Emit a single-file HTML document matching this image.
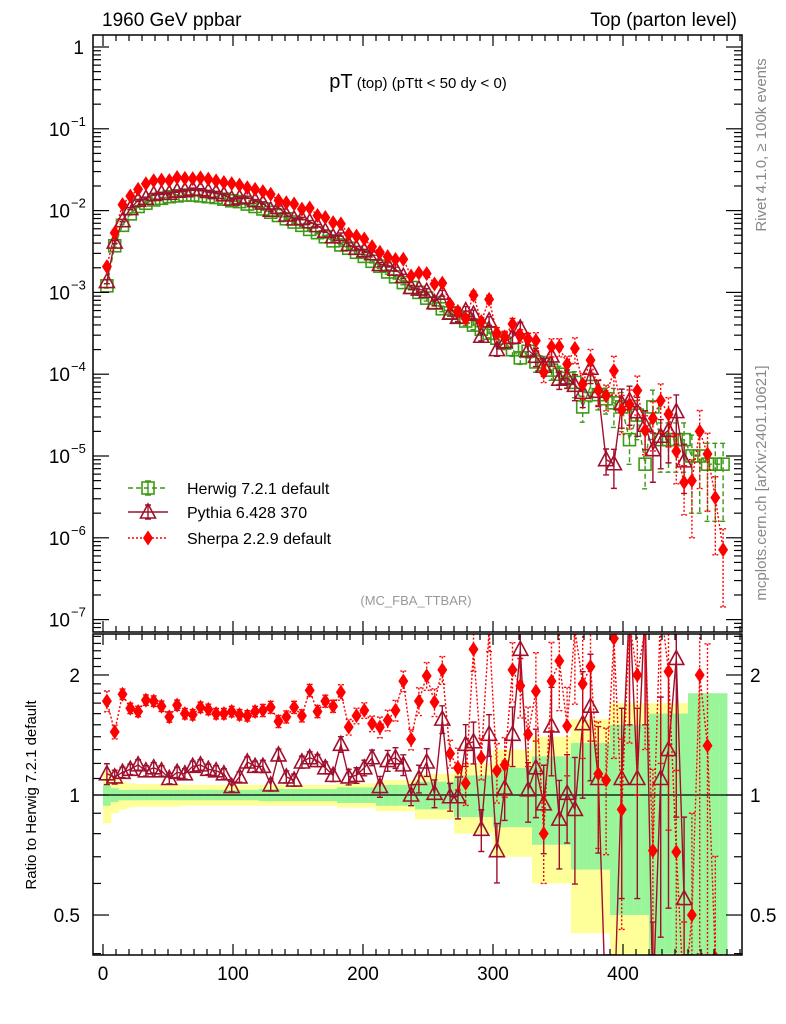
<!DOCTYPE html>
<html><head><meta charset="utf-8"><style>
html,body{margin:0;padding:0;background:#fff;width:786px;height:1024px;overflow:hidden}
svg{display:block}
text{font-family:"Liberation Sans",sans-serif}
</style></head><body>
<svg id="c" width="786" height="1024" viewBox="0 0 786 1024" xmlns="http://www.w3.org/2000/svg">
<defs>
<clipPath id="cm"><rect x="93" y="35" width="649" height="597"/></clipPath>
<clipPath id="cr"><rect x="93" y="634" width="649" height="321"/></clipPath>
</defs>
<g id="bands" clip-path="url(#cr)"></g>
<line x1="93" y1="795" x2="742" y2="795" stroke="#000" stroke-width="1.2"/>
<g id="gm" clip-path="url(#cm)"></g>
<g id="gr" clip-path="url(#cr)"></g>
<g id="axes"></g>
<rect x="93" y="35" width="649" height="597" fill="none" stroke="#000" stroke-width="1.5"/>
<rect x="93" y="634" width="649" height="321" fill="none" stroke="#000" stroke-width="1.5"/>
<text x="102" y="26" font-size="19">1960 GeV ppbar</text>
<text x="737" y="26" font-size="19" text-anchor="end">Top (parton level)</text>
<text x="418" y="88" text-anchor="middle"><tspan font-size="20">pT</tspan><tspan font-size="15"> (top)  (pTtt &lt; 50 dy &lt; 0)</tspan></text>
<text transform="translate(766,145) rotate(-90)" font-size="15" fill="#888" text-anchor="middle">Rivet 4.1.0, ≥ 100k events</text>
<text transform="translate(766,483) rotate(-90)" font-size="15" fill="#888" text-anchor="middle">mcplots.cern.ch [arXiv:2401.10621]</text>
<text x="416" y="605" font-size="13" fill="#999" text-anchor="middle">(MC_FBA_TTBAR)</text>
<text transform="translate(36,795) rotate(-90)" font-size="15" text-anchor="middle">Ratio to Herwig 7.2.1 default</text>
<g id="legend"></g>
</svg>
<script>
const binWidth = 6;
const herwigLog = [-2.92,-2.43,-2.18,-2.04,-1.95,-1.91,-1.87,-1.85,-1.83,-1.82,-1.81,-1.81,-1.82,-1.83,-1.84,-1.86,-1.88,-1.89,-1.92,-1.95,-1.98,-2.02,-2.06,-2.10,-2.14,-2.18,-2.23,-2.27,-2.32,-2.37,-2.42,-2.46,-2.51,
-2.56,-2.62,-2.68,-2.75,-2.81,-2.88,-2.94,-3.00,-3.07,-3.13,-3.20,-3.25,-3.30,-3.35,-3.40,-3.45,-3.50,-3.56,-3.62,-3.70,-3.80,-3.72,-3.85,-3.88,-3.95,-4.00,-4.05,-4.10,-4.40,-4.15,-4.25,-4.30,-4.35,-4.40,-4.80,-4.50,-5.10,-4.40,-4.80,-4.80,-4.80,-4.80,
-5.0,-5.0,-5.10,-5.10,-5.10];
const pythiaRatio = [1.13,1.11,1.14,1.16,1.19,1.15,1.17,1.15,1.10,1.14,1.13,1.18,1.19,1.16,1.15,1.13,1.05,1.11,1.21,1.18,1.18,1.06,1.26,1.11,1.09,1.21,1.24,1.22,1.17,1.12,1.34,1.11,1.12,1.17,1.24,1.05,1.22,1.24,1.19,1.00,1.10,
1.21,1.01,1.55,0.99,0.99,1.34,1.36,0.82,1.42,0.725,1.04,1.42,2.32,1.03,1.17,0.95,1.49,0.87,1.01,0.92,1.51,1.67,1.10,0.18,0.18,1.10,3.0,1.10,3.0,0.3,1.10,1.3,2.2,0.55,
null,null,null,null,null];
const sherpaRatio = [1.72,1.44,1.79,1.65,1.62,1.73,1.72,1.67,1.57,1.68,1.60,1.59,1.66,1.64,1.60,1.60,1.62,1.59,1.58,1.62,1.63,1.66,1.53,1.57,1.66,1.58,1.83,1.62,1.72,1.67,1.81,1.48,1.58,1.63,1.51,1.48,1.54,1.63,1.93,1.38,1.72,
1.99,1.71,2.06,1.27,1.17,1.07,2.32,1.24,2.6,1.15,1.19,2.06,1.88,1.42,1.82,0.80,1.93,2.17,1.49,2.6,1.9,2.1,1.13,1.09,2.47,0.92,2.7,2.0,2.6,0.725,3.0,2.04,0.72,0.3,0.5,2.0,1.33,0.39,0.09];
const statErr = [0.06,0.04,0.03,0.03,0.03,0.03,0.03,0.03,0.03,0.03,0.03,0.03,0.03,0.03,0.03,0.03,0.03,0.03,0.03,0.03,
0.035,0.035,0.035,0.035,0.035,0.035,0.035,0.035,0.035,0.035,0.045,0.045,0.045,0.045,0.045,0.06,0.06,0.06,0.06,0.06,
0.08,0.08,0.08,0.08,0.08,0.12,0.12,0.12,0.12,0.12,0.17,0.17,0.17,0.17,0.17,0.25,0.25,0.25,0.25,0.25,
0.35,0.35,0.35,0.35,0.35,0.5,0.5,0.5,0.5,0.5,0.6,0.6,0.6,0.6,0.6,0.8,0.8,0.8,0.8,0.8];
const systErr = [0.15,0.10,0.08,0.07,0.065,0.065,0.065,0.065,0.065,0.065,0.06,0.06,0.06,0.06,0.06,0.06,0.06,0.06,0.06,0.06,
0.06,0.06,0.06,0.06,0.06,0.06,0.06,0.06,0.06,0.06,0.07,0.07,0.07,0.07,0.07,0.09,0.09,0.09,0.09,0.09,
0.13,0.13,0.13,0.13,0.13,0.2,0.2,0.2,0.2,0.2,0.3,0.3,0.3,0.3,0.3,0.4,0.4,0.4,0.4,0.4,
0.55,0.55,0.55,0.55,0.55,0.7,0.7,0.7,0.7,0.7,0.7,0.7,0.7,0.7,0.7,0.7,0.7,0.7,0.7,0.7];
const mainTicks = ["1","10","10","10","10","10","10","10"];
const mainTickExp = [null,"−1","−2","−3","−4","−5","−6","−7"];
const ratioTickLabels = ["0.5","1","2"];
const xTickLabels = ["0","100","200","300","400"];

const NS="http://www.w3.org/2000/svg";
const cl=(y,a,b)=>Math.max(a,Math.min(b,y));
const xS=v=>103+1.3*v;
const yM=v=>cl(47-81.8*Math.log10(v),0,1020);
const yR=r=>cl(795-398.7*Math.log10(r),0,1020);
function mk(tag,attrs,parent){const e=document.createElementNS(NS,tag);for(const k in attrs)e.setAttribute(k,attrs[k]);parent.appendChild(e);return e;}
const gm=document.getElementById('gm'),gr=document.getElementById('gr'),bands=document.getElementById('bands'),axes=document.getElementById('axes'),legend=document.getElementById('legend');

const herwig=herwigLog.map(l=>Math.pow(10,l));
const pythia=herwig.map((h,i)=>pythiaRatio[i]==null?null:h*pythiaRatio[i]);
const sherpa=herwig.map((h,i)=>sherpaRatio[i]==null?null:h*sherpaRatio[i]);
const centers=herwig.map((h,i)=>binWidth*(i+0.5));

function bandRect(x0,x1,lo,hi,fill,name){
  const yt=cl(yR(hi),634,955),yb=cl(yR(Math.max(lo,0.01)),634,955);
  const r=mk('rect',{x:x0,y:yt,width:x1-x0+0.5,height:Math.max(0,yb-yt),fill},bands);
  
  
}
herwig.forEach((h,i)=>{
  const x0=xS(binWidth*i),x1=xS(binWidth*(i+1));
  bandRect(x0,x1,1-systErr[i],1+systErr[i],'#ffff99','syst-band-bin');
  bandRect(x0,x1,1-statErr[i],1+statErr[i],'#99f599','stat-band-bin');
});

function marker(type,x,y,parent,color){
  let e;
  if(type==='sq') e=mk('rect',{x:x-6,y:y-6,width:12,height:12,fill:'none',stroke:color,'stroke-width':1.6},parent);
  else if(type==='tri') e=mk('path',{d:`M${x},${y-8} L${x+7.5},${y+6} L${x-7.5},${y+6} Z`,fill:'none',stroke:color,'stroke-width':1.6},parent);
  else e=mk('path',{d:`M${x},${y-7.5} L${x+5},${y} L${x},${y+7.5} L${x-5},${y} Z`,fill:color},parent);
  return e;
}
function series(vals,yf,parent,color,dash,type,name,err,lowClip){
  let pts=[];
  vals.forEach((v,i)=>{ if(v!=null) pts.push([xS(centers[i]),yf(v)]); });
  const pl=mk('polyline',{points:pts.map(p=>p.join(',')).join(' '),fill:'none',stroke:color,'stroke-width':1.4},parent);
  if(dash) pl.setAttribute('stroke-dasharray',dash);
  
  
  vals.forEach((v,i)=>{
    if(v==null) return;
    const x=xS(centers[i]),y=yf(v),e=err[i];
    const yu=yf(v*(1+e)),yd=(1-e)>0.02?Math.min(yf(v*(1-e)),lowClip):lowClip;
    const eb=mk('path',{d:`M${x},${yu} V${yd} M${x-3},${yu} H${x+3} M${x-3},${yd} H${x+3}`,stroke:color,'stroke-width':1.4,fill:'none'},parent);
    if(dash) eb.setAttribute('stroke-dasharray',dash);
    
    
    if(y>1010) return;
    const m=marker(type,x,y,parent,color);
    
    
  });
}
series(herwig,yM,gm,'#3c9a14','5,3','sq','herwig',statErr,632);
series(pythia,yM,gm,'#a0102e',null,'tri','pythia',statErr,632);
series(sherpa,yM,gm,'#ff0000','2,2','dia','sherpa',statErr,632);
series(pythiaRatio,yR,gr,'#a0102e',null,'tri','pythia-ratio',statErr,955);
series(sherpaRatio,yR,gr,'#ff0000','2,2','dia','sherpa-ratio',statErr,955);

function ln(x1,y1,x2,y2,name){const l=mk('line',{x1,y1,x2,y2,stroke:'#000','stroke-width':1.2},axes);}
for(let v=-10;v<=490;v+=10){
  const x=xS(v); if(x<93||x>742) continue;
  const L=(v%100===0)?11:6;
  ln(x,632,x,632-L,'x-tick'); ln(x,35,x,35+L,'x-tick');
  ln(x,955,x,955-L,'x-tick'); ln(x,634,x,634+L,'x-tick');
}
xTickLabels.forEach((t,i)=>{const tx=mk('text',{x:xS(i*100),y:980,'font-size':19,'text-anchor':'middle'},axes);tx.textContent=t;
 });
for(let d=-8;d<=0;d++){
  for(let k=1;k<10;k++){
    const y=47-81.8*Math.log10(k*Math.pow(10,d)); if(y<35||y>632) continue;
    const L=k===1?16:8;
    ln(93,y,93+L,y,'y-tick'); ln(742,y,742-L,y,'y-tick');
  }
}
mainTicks.forEach((t,i)=>{
  const y=yM(Math.pow(10,-i));
  const tx=mk('text',{x:i===0?84:70,y:y+7,'font-size':19,'text-anchor':'end'},axes);tx.textContent=t;
  
  if(mainTickExp[i]){const ex=mk('text',{x:71,y:y-3,'font-size':13},axes);ex.textContent=mainTickExp[i];
    }
});
for(let k=3;k<=25;k++){
  const r=k/10,y=795-398.7*Math.log10(r); if(y<634||y>955) continue;
  const L=(k===5||k===10||k===20)?16:8;
  ln(93,y,93+L,y,'ratio-y-tick'); ln(742,y,742-L,y,'ratio-y-tick');
}
[0.5,1,2].forEach((r,i)=>{
  const y=yR(r);
  let a=mk('text',{x:80,y:y+7,'font-size':19,'text-anchor':'end'},axes);a.textContent=ratioTickLabels[i];
  
  let b=mk('text',{x:750,y:y+7,'font-size':19},axes);b.textContent=ratioTickLabels[i];
  
});
[['Herwig 7.2.1 default','#3c9a14','5,3','sq',488],['Pythia 6.428 370','#a0102e',null,'tri',512],['Sherpa 2.2.9 default','#ff0000','2,2','dia',538]].forEach(([t,c,d,ty,y])=>{
  const g=mk('g',{},legend);
  
  
  const l=mk('line',{x1:128,y1:y,x2:168,y2:y,stroke:c,'stroke-width':1.4},g); if(d) l.setAttribute('stroke-dasharray',d);
  if(ty!=='dia') mk('path',{d:`M148,${y-7} V${y+7} M145,${y-7} H151 M145,${y+7} H151`,stroke:c,'stroke-width':1.4},g);
  marker(ty,148,y,g,c);
  const tx=mk('text',{x:187,y:y+6,'font-size':16},g);tx.textContent=t;
});
</script>
</body></html>
